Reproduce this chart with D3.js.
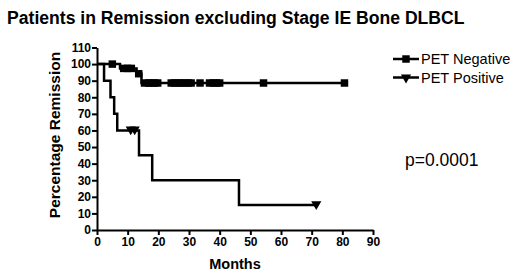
<!DOCTYPE html>
<html>
<head>
<meta charset="utf-8">
<script src="https://cdn.jsdelivr.net/npm/d3@7"></script>
<style>
  body { margin: 0; background: #fff; }
  svg { display: block; font-family: "Liberation Sans", Arial, sans-serif; }
</style>
</head>
<body>
<div id="chart"></div>
<script>
{
const width = 520;
const height = 278;

// x range is 0..90 months, y range 0..110 %
const xTicks = [0, 10, 20, 30, 40, 50, 60, 70, 80, 90];
const yTicks = [0, 10, 20, 30, 40, 50, 60, 70, 80, 90, 100, 110];

// PET negative: months where the curve drops, and the level after each drop
const negDropMonths = [7.5, 12.9, 14.5];
const negLevels = [100, 97.4, 94.2, 88.6];
const negCensored = [5, 8.7, 10, 11.2, 13.6, 15.5, 16.9, 17.8, 18.8, 19.8,
  24.2, 25.3, 26.5, 27.4, 28.6, 29.7, 30.7, 33.6, 36.7, 37.9, 39, 40, 54.3, 80.7];
const negEnd = 80.7;

// PET positive
const posDropMonths = [2.3, 4.4, 5.6, 6.6, 13.7, 18, 46.3];
const posLevels = [100, 90, 80, 70, 60, 45, 30, 15];
const posCensored = [11, 12.3, 71.5];
const posEnd = 71.5;

const series = [
  {name: 'PET Negative', drops: negDropMonths, levels: negLevels, censored: negCensored, end: negEnd, symbol: 'square'},
  {name: 'PET Positive', drops: posDropMonths, levels: posLevels, censored: posCensored, end: posEnd, symbol: 'triangle'}
];

const x = d3.scaleLinear().domain([0, 90]).range([97, 373]);
const y = d3.scaleLinear().domain([0, 110]).range([230, 47.5]);

let svg = d3.select('#chart')
    .append('svg')
    .attr('width', width)
    .attr('height', height);

svg.append('text')
    .attr('x', 7)
    .attr('y', 24)
    .style('font-weight', 'bold')
    .style('font-size', '17.6px')
    .text('Patients in Remission excluding Stage IE Bone DLBCL');

// axes
let xAxis = svg.append('g')
    .attr('transform', `translate(0, ${y(0)})`)
    .call(d3.axisBottom(x).tickValues(xTicks).tickSize(5).tickPadding(2).tickSizeOuter(0));
let yAxis = svg.append('g')
    .attr('transform', `translate(${x(0)}, 0)`)
    .call(d3.axisLeft(y).tickValues(yTicks).tickSize(5).tickPadding(1).tickSizeOuter(0));

[xAxis, yAxis].forEach(a => {
    a.select('.domain').attr('stroke', '#000').attr('stroke-width', 2);
    a.selectAll('.tick line').attr('stroke', '#000').attr('stroke-width', 2);
    a.selectAll('.tick text')
        .attr('fill', '#000')
        .style('font-family', '"Liberation Sans", Arial, sans-serif')
        .style('font-weight', 'bold')
        .style('font-size', '12px');
});

svg.append('text')
    .attr('transform', `translate(60, 135) rotate(-90)`)
    .style('text-anchor', 'middle')
    .style('font-weight', 'bold')
    .style('font-size', '15.5px')
    .text('Percentage Remission');

svg.append('text')
    .attr('x', 235)
    .attr('y', 269)
    .style('text-anchor', 'middle')
    .style('font-weight', 'bold')
    .style('font-size', '14.5px')
    .text('Months');

function stepPoints(s) {
    let pts = [[0, s.levels[0]]];
    s.drops.forEach((m, i) => {
        pts.push([m, s.levels[i]]);
        pts.push([m, s.levels[i + 1]]);
    });
    pts.push([s.end, s.levels[s.levels.length - 1]]);
    return pts;
}

function levelAt(s, m) {
    let v = s.levels[0];
    s.drops.forEach((d, i) => { if (m >= d) v = s.levels[i + 1]; });
    return v;
}

const line = d3.line().x(d => x(d[0])).y(d => y(d[1]));
const sqSym = d3.symbol().type(d3.symbolSquare).size(56);
const triSym = d3.symbol().type(d3.symbolTriangle).size(45);

series.forEach(s => {
    svg.append('path')
        .datum(stepPoints(s))
        .attr('d', line)
        .attr('fill', 'none')
        .attr('stroke', '#000')
        .attr('stroke-width', 2.5);

    svg.selectAll(null)
        .data(s.censored)
        .enter().append('path')
        .attr('d', s.symbol === 'square' ? sqSym : triSym)
        .attr('transform', d => `translate(${x(d)}, ${y(levelAt(s, d)) + (s.symbol === 'square' ? 0 : -1)}) rotate(${s.symbol === 'square' ? 0 : 180})`)
        .attr('fill', '#000');
});

// legend
let legend = svg.append('g');
series.forEach((s, i) => {
    let ly = 59 + i * 18.5;
    legend.append('line')
        .attr('x1', 393).attr('x2', 419)
        .attr('y1', ly).attr('y2', ly)
        .attr('stroke', '#000').attr('stroke-width', 2.5);
    legend.append('path')
        .attr('d', s.symbol === 'square' ? sqSym : triSym)
        .attr('transform', `translate(406, ${ly}) rotate(${s.symbol === 'square' ? 0 : 180})`)
        .attr('fill', '#000');
    legend.append('text')
        .attr('x', 421)
        .attr('y', ly + 5)
        .style('font-size', '14.5px')
        .text(s.name);
});

svg.append('text')
    .attr('x', 405)
    .attr('y', 166)
    .style('font-size', '17.5px')
    .text('p=0.0001');
}
</script>
</body>
</html>
